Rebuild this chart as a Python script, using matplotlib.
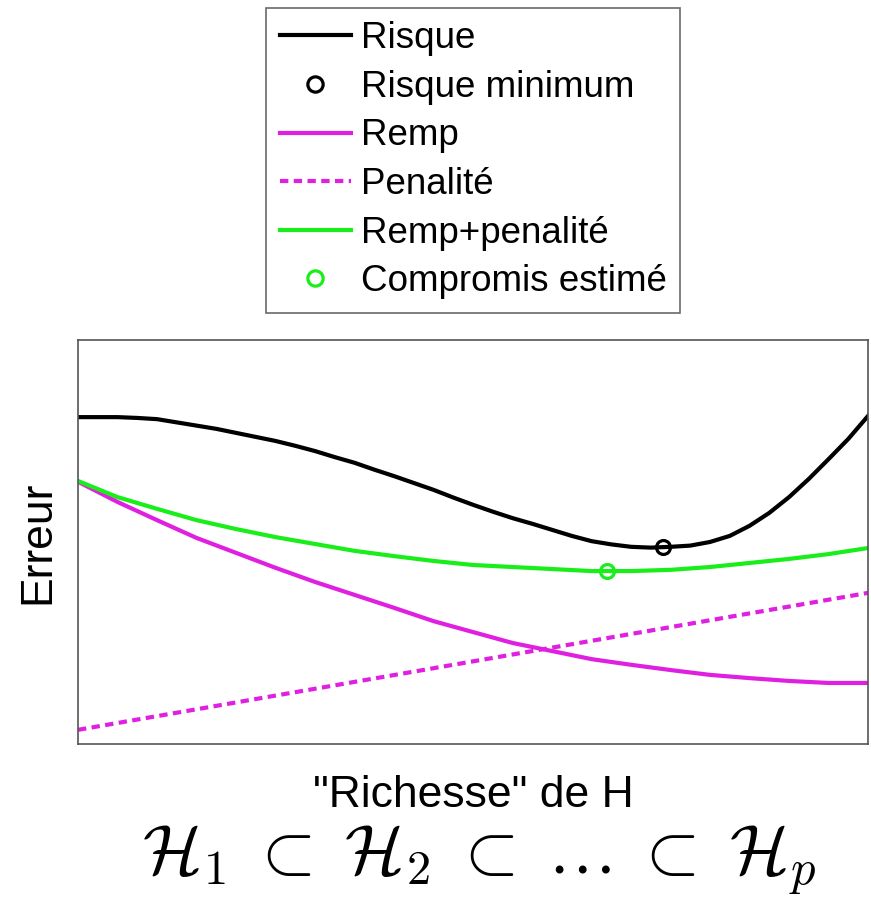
import matplotlib.pyplot as plt

# data (arbitrary units, 0-100 on y, 0-10 on x)
x = [0.0, 0.5, 1.0, 1.5, 2.0, 2.5, 3.0, 3.5, 4.0, 4.5, 5.0,
     5.5, 6.0, 6.5, 7.0, 7.5, 8.0, 8.5, 9.0, 9.5, 10.0]
remp = [64.9, 59.9, 55.4, 51.0, 47.3, 43.6, 40.1, 36.9, 33.7, 30.4, 27.7,
        25.0, 23.0, 21.0, 19.6, 18.3, 17.1, 16.3, 15.6, 15.1, 15.1]
remp_pen = [65.1, 61.1, 58.2, 55.4, 53.2, 51.2, 49.5, 47.8, 46.5, 45.3, 44.3,
            43.8, 43.3, 42.8, 42.8, 43.1, 43.8, 44.8, 45.8, 47.0, 48.5]

# the risk curve bends more, so it was read on a finer grid
x_fin = [i * 0.25 for i in range(41)]
risque = [80.9, 80.9, 80.9, 80.7, 80.4, 79.6, 78.8, 78.0, 77.0, 76.0,
          75.0, 73.8, 72.5, 71.0, 69.6, 67.9, 66.3, 64.6, 62.9, 61.0,
          59.2, 57.5, 55.9, 54.5, 53.0, 51.5, 50.2, 49.4, 48.8, 48.6,
          48.8, 49.1, 50.0, 51.5, 54.0, 57.2, 61.1, 65.6, 70.5, 75.5, 81.2]

pen_x = [0.0, 10.0]
penalite = [3.5, 37.4]
risque_min = (7.41, 48.7)
compromis = (6.70, 42.8)

plt.rcParams['font.family'] = ['Liberation Sans', 'DejaVu Sans']
plt.rcParams['mathtext.fontset'] = 'cm'

magenta = '#e020e0'
green = '#1aee1a'

fig = plt.figure(figsize=(8.71, 9.02), dpi=100)
ax = fig.add_axes([0.0896, 0.1752, 0.9070, 0.4479])

ax.plot(x_fin, risque, color='black', lw=3, label='Risque')
ax.plot(*risque_min, 'o', mfc='none', mec='black', ms=10, mew=2.3,
        label='Risque minimum')
ax.plot(x, remp, color=magenta, lw=3, label='Remp')
ax.plot(pen_x, penalite, color=magenta, lw=3, ls=(0, (2.0, 1.3)),
        label='Penalité')
ax.plot(x, remp_pen, color=green, lw=3, label='Remp+penalité')
ax.plot(*compromis, 'o', mfc='none', mec=green, ms=10, mew=2.3,
        label='Compromis estimé')

ax.set_xlim(0, 10)
ax.set_ylim(0, 100)
ax.set_xticks([])
ax.set_yticks([])
for s in ax.spines.values():
    s.set_color('#555555')
    s.set_linewidth(1.2)

ax.set_ylabel('Erreur', fontsize=32, labelpad=14)
ax.set_xlabel('"Richesse" de H', fontsize=32, labelpad=22)

fig.text(0.5505, 0.046,
         r'$\mathcal{H}_1 \;\subset\; \mathcal{H}_2 \;\subset\; \ldots \;\subset\; \mathcal{H}_p$',
         fontsize=50, ha='center', va='center')

leg = fig.legend(loc='upper center', bbox_to_anchor=(473 / 871, 1 - 8 / 902),
                 fontsize=26.5, frameon=True, fancybox=False, handlelength=1.95,
                 handletextpad=0.25, labelspacing=0.37, borderpad=0.36,
                 borderaxespad=0, markerscale=1.1)
leg.get_frame().set_edgecolor('#444444')
leg.get_frame().set_linewidth(1.2)

fig.savefig('out.png', dpi=100)
